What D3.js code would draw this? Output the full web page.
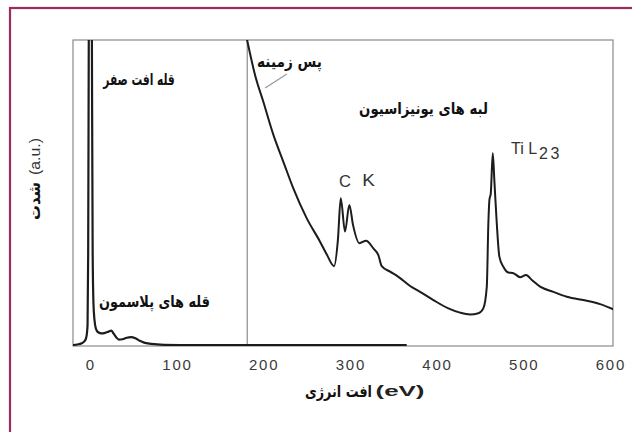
<!DOCTYPE html>
<html>
<head>
<meta charset="utf-8">
<script src="https://cdn.jsdelivr.net/npm/d3@7"></script>
<style>
  body { margin: 0; background: #fff; }
  svg { display: block; }
  .tick text { font-family: "Liberation Sans", Arial, sans-serif; font-size: 15px; fill: #3a3a3a; letter-spacing: 1.8px; }
  .fa { font-family: "DejaVu Sans", sans-serif; font-weight: bold; fill: #111; }
  .en { font-family: "Liberation Sans", Arial, sans-serif; fill: #333; }
  .enb { font-family: "Liberation Sans", Arial, sans-serif; font-weight: bold; fill: #222; }
</style>
</head>
<body>
<div id="chart"></div>
<script>
var width = 632;
var height = 432;

// low-loss spectrum (zero-loss + plasmon), energy in eV
var lowLossEnergy = [-20, -15, -10, -7, -5, -4, -3.2, -2.5, -1.8, -1, 0, 1, 1.8, 2.7, 3.6, 4.8, 6.5, 9, 13, 17, 21, 24, 27, 30, 33, 37, 42, 47, 52, 57, 62, 70, 85, 120, 181, 250, 365];
var lowLossIntensity = [0.3, 0.5, 0.9, 1.5, 2.5, 4, 7, 30, 100, 170, 220, 170, 100, 30, 14, 8.5, 5.6, 4.5, 4.1, 4.3, 4.7, 5.0, 4.0, 2.8, 2.1, 2.2, 2.7, 2.9, 2.5, 1.7, 1.1, 0.7, 0.4, 0.3, 0.3, 0.3, 0.3];

// core-loss spectrum (scaled), energy in eV
var coreLossEnergy = [180.5, 190, 199.6, 211.2, 222.7, 234.2, 249.7, 265, 273.1, 281.2, 285.6, 288.9, 293.8, 298.8, 303.1, 310.4, 318.1, 326.5, 332.3, 336.2, 345.8, 355.4, 368.9, 380.4, 395.8, 413.1, 426.6, 438.1, 447.7, 453.4, 457.4, 459.2, 460.4, 462, 464.3, 466.1, 468.9, 471.9, 476.5, 482.3, 488.1, 495.8, 502.7, 509.3, 518.9, 534.2, 549.7, 572.8, 588.1, 603.4];
var coreLossIntensity = [100.5, 88.6, 79.8, 69.0, 60.2, 51.5, 41.7, 34.1, 29.7, 26.1, 34.6, 48.3, 37.4, 46.1, 39.5, 33.6, 34.4, 31.9, 29.7, 26.1, 24.3, 22.6, 19.6, 17.7, 15.0, 12.3, 10.9, 10.3, 10.7, 12.3, 19.4, 40.1, 47.7, 49.9, 63.0, 54.2, 40.1, 29.2, 25.9, 24.0, 23.8, 22.5, 23.2, 21.6, 19.4, 17.7, 16.1, 14.8, 13.7, 12.0];

var xTickValues = [0, 100, 200, 300, 400, 500, 600];
var dividerEnergy = 181;

var svg = d3.select("#chart").append("svg")
  .attr("width", width)
  .attr("height", height);

// outer border
svg.append("rect")
  .attr("x", 10).attr("y", 8)
  .attr("width", width).attr("height", height)
  .attr("fill", "none")
  .attr("stroke", "#9b2c5e")
  .attr("stroke-width", 2.2);

var plot = { left: 73, right: 613, top: 40, bottom: 346 };

var x = d3.scaleLinear().domain([-20, 603]).range([plot.left, plot.right]);
var y = d3.scaleLinear().domain([0, 100]).range([plot.bottom, plot.top]);

svg.append("clipPath").attr("id", "clip")
  .append("rect")
  .attr("x", plot.left).attr("y", plot.top)
  .attr("width", plot.right - plot.left).attr("height", plot.bottom - plot.top);

// frame
svg.append("rect")
  .attr("x", plot.left).attr("y", plot.top)
  .attr("width", plot.right - plot.left).attr("height", plot.bottom - plot.top)
  .attr("fill", "none")
  .attr("stroke", "#8a8a8a")
  .attr("stroke-width", 1.2);

// divider between low-loss and core-loss
svg.append("line")
  .attr("x1", x(dividerEnergy)).attr("x2", x(dividerEnergy))
  .attr("y1", plot.top).attr("y2", plot.bottom)
  .attr("stroke", "#8a8a8a")
  .attr("stroke-width", 1.2);

var line = d3.line()
  .x(function(d) { return x(d[0]); })
  .y(function(d) { return y(d[1]); })
  .curve(d3.curveMonotoneX);

var lowLoss = d3.zip(lowLossEnergy, lowLossIntensity);
var coreLoss = d3.zip(coreLossEnergy, coreLossIntensity);

var curves = svg.append("g").attr("clip-path", "url(#clip)");
curves.append("path")
  .datum(lowLoss)
  .attr("d", line)
  .attr("fill", "none")
  .attr("stroke", "#1c1c1c")
  .attr("stroke-width", 2.2);
curves.append("path")
  .datum(coreLoss)
  .attr("d", line)
  .attr("fill", "none")
  .attr("stroke", "#1c1c1c")
  .attr("stroke-width", 2);

// x axis labels
var xAxis = d3.axisBottom(x)
  .tickValues(xTickValues)
  .tickSize(0)
  .tickPadding(13);
var gx = svg.append("g")
  .attr("transform", "translate(0," + plot.bottom + ")")
  .call(xAxis);
gx.select(".domain").remove();

// text squeezed/stretched to the width it has in the picture
function label(txt, cx, cy, w, size, cls, rotated) {
  var g = svg.append("g")
    .attr("transform", "translate(" + cx + "," + cy + ")" + (rotated ? " rotate(-90)" : ""));
  var t = g.append("text")
    .attr("class", cls)
    .attr("text-anchor", "middle")
    .attr("dominant-baseline", "central")
    .style("font-size", size + "px")
    .text(txt);
  var bw = t.node().getBBox().width;
  if (bw > 0) t.attr("transform", "scale(" + (w / bw) + ",1)");
  return t;
}

// axis titles
label("افت انرژی", 338.5, 391, 67, 16, "fa");
label("(eV)", 400, 391, 49, 15, "enb");
label("شدت", 35, 201, 38, 16, "fa", true);
label("(a.u.)", 35, 156.5, 37, 15, "en", true);

// annotations
label("قله افت صفر", 139, 79, 72, 16, "fa");
label("پس زمینه", 289.5, 62, 65, 16, "fa");
label("لبه های یونیزاسیون", 423.5, 108, 129, 16, "fa");
label("قله های پلاسمون", 154.5, 301, 111, 16, "fa");

svg.append("line")
  .attr("x1", x(201.6)).attr("y1", y(84.3))
  .attr("x2", x(226.8)).attr("y2", y(88.9))
  .attr("stroke", "#999")
  .attr("stroke-width", 1.2);

label("C", 345, 181, 12, 16, "en");
label("K", 368.5, 181, 13, 16, "en");

var ti = svg.append("text")
  .attr("class", "en")
  .attr("x", 511).attr("y", 154)
  .style("font-size", "16px");
ti.append("tspan").text("Ti L");
ti.append("tspan").attr("dx", 2).attr("dy", 4.5).style("letter-spacing", "2.5px").text("23");
</script>
</body>
</html>
